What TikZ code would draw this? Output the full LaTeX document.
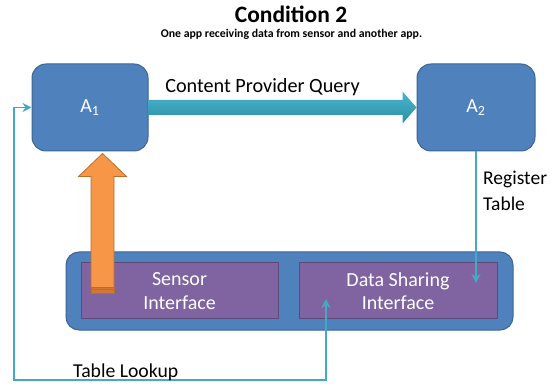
\documentclass[tikz,border=0pt]{standalone}
\usepackage{fontspec}
\setmainfont{Carlito}
\usetikzlibrary{arrows.meta,calc}

\definecolor{appfill}{HTML}{4F81BD}
\definecolor{appline}{HTML}{3A6595}
\definecolor{ifacefill}{HTML}{8064A2}
\definecolor{ifaceline}{HTML}{5E4A7A}
\definecolor{linkcol}{HTML}{45A9C3}
\definecolor{querytop}{HTML}{4BB4CC}
\definecolor{querybot}{HTML}{2A8FA7}
\definecolor{sensefill}{HTML}{F79646}
\definecolor{senseline}{HTML}{B96E2E}
\definecolor{sensedark}{HTML}{D27834}

\tikzset{
  appbox/.style={draw=appline, fill=appfill, line width=1pt, rounded corners=14pt,
    text=white, font=\fontsize{20}{24}\selectfont},
  basebox/.style={draw=appline, fill=appfill, line width=1pt, rounded corners=13pt},
  ifacebox/.style={draw=ifaceline, fill=ifacefill, line width=1pt, text=white,
    align=center, font=\fontsize{20}{23.5}\selectfont},
  lbl/.style={inner sep=0pt},
  link/.style={draw=linkcol, line width=1.8pt, >={Stealth[length=9pt, width=9pt, inset=3pt]}}
}

\begin{document}
\begin{tikzpicture}[x=1pt, y=1pt]
\useasboundingbox (0,0) rectangle (553,385);

% title
\node[anchor=base, inner sep=0pt, font=\bfseries\fontsize{23.5}{30}\selectfont] (title) at (291,362) {Condition 2};
\node[anchor=base, inner sep=0pt, font=\bfseries\fontsize{11.8}{14}\selectfont] (subtitle) at (291.5,347) {One app receiving data from sensor and another app.};

% the two apps
\node[appbox, minimum width=116pt, minimum height=87pt] (A1) at (90,277.5) {A\textsubscript{1}};
\node[appbox, minimum width=118pt, minimum height=87pt] (A2) at (476,277.5) {A\textsubscript{2}};

% platform with its two interfaces
\node[basebox, minimum width=447pt, minimum height=78pt] (base) at (289.5,94) {};
\node[ifacebox, minimum width=197pt, minimum height=56pt] (sensor) at (179.5,94) {Sensor\\Interface};
\node[ifacebox, minimum width=198pt, minimum height=56pt] (share) at (398,94) {Data Sharing\\Interface};

% content provider query: shaded block arrow A1 -> A2
\shade[top color=querytop, bottom color=querybot]
  ($(A1.east)+(0,7.5)$) -- ($(A2.west)+(-14,7.5)$) -- ($(A2.west)+(-14,16)$) --
  (A2.west) --
  ($(A2.west)+(-14,-16)$) -- ($(A2.west)+(-14,-7.5)$) -- ($(A1.east)+(0,-7.5)$) -- cycle;
\node[lbl, anchor=base, font=\fontsize{20.2}{24}\selectfont] (qlabel) at (262.5,292.7) {Content Provider Query};

% sensor data: block arrow from the sensor interface up to A1
\coordinate (stip) at ($(A1.south)+(12.5,-2)$);
\coordinate (sfoot) at (stip |- 0,92);
\filldraw[fill=sensefill, draw=senseline, line width=0.8pt]
  ($(sfoot)+(-11.5,0)$) -- ($(stip)+(-11.5,-23)$) -- ($(stip)+(-24,-23)$) --
  (stip) --
  ($(stip)+(24,-23)$) -- ($(stip)+(11.5,-23)$) -- ($(sfoot)+(11.5,0)$) -- cycle;
\fill[sensedark] ($(sfoot)+(-11.5,0)$) rectangle ($(sfoot)+(11.5,6)$);
\draw[senseline, line width=0.6pt] ($(sfoot)+(-11.5,3.5)$) -- ($(sfoot)+(11.5,3.5)$);
\draw[senseline, line width=0.6pt] ($(sfoot)+(-11.5,0)$) rectangle ($(sfoot)+(11.5,6)$);

% register table: A2 -> data sharing interface
\coordinate (regend) at (A2.south |- 0,102);
\draw[link, ->] (A2.south) -- (regend);
\node[lbl, align=left, anchor=west, font=\fontsize{19.5}{25.5}\selectfont] (reglabel) at (483,194) {Register\\Table};

% table lookup: data sharing interface <-> A1
\coordinate (lookend) at (326,86);
\coordinate (lookdown) at (326,5);
\coordinate (lookleft) at (14,5);
\draw[link, <->] (lookend) -- (lookdown) -- (lookleft) -- (lookleft |- A1.west) -- (A1.west);
\node[lbl, anchor=base west, font=\fontsize{19.7}{23}\selectfont] (looklabel) at (73,8) {Table Lookup};
\end{tikzpicture}
\end{document}
